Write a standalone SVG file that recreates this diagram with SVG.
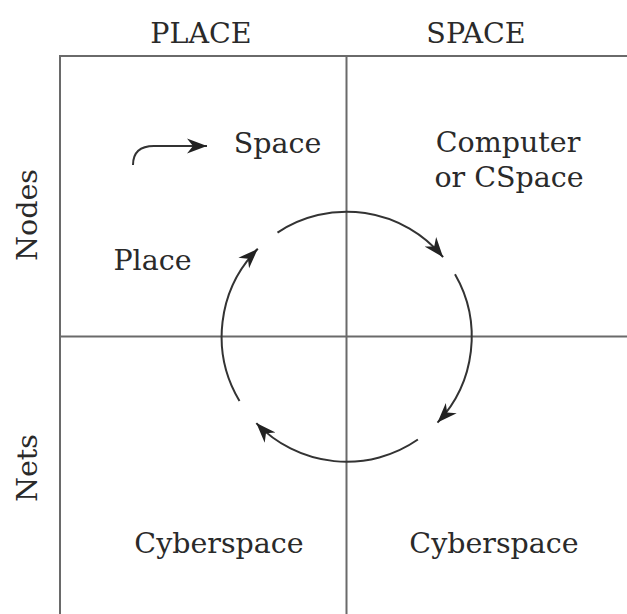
<svg xmlns="http://www.w3.org/2000/svg" width="627" height="614" viewBox="0 0 627 614">
<style>
  .grid { stroke: #6a6a6a; stroke-width: 2; fill: none; }
  .arc { stroke: #333; stroke-width: 2; fill: none; stroke-linecap: butt; }
  text { font-family: "DejaVu Serif", "Liberation Serif", serif; font-size: 28.5px; fill: #2a2a2a; }
  .c { text-anchor: middle; }
</style>
<defs>
  <marker id="ah" viewBox="-20 -9 21 18" refX="0" refY="0" markerWidth="21" markerHeight="18" markerUnits="userSpaceOnUse" orient="auto">
    <path d="M0,0 L-20,-7.5 L-14,0 L-20,7.5 Z" fill="#222"/>
  </marker>
</defs>
<g id="grid">
  <line class="grid" x1="60" y1="56" x2="627" y2="56"/>
  <line class="grid" x1="60" y1="55" x2="60" y2="614"/>
  <line class="grid" x1="346.5" y1="56" x2="346.5" y2="614"/>
  <line class="grid" x1="60" y1="336.5" x2="627" y2="336.5"/>
</g>
<g id="headers">
  <text id="h-place" class="c" x="201" y="43">PLACE</text>
  <text id="h-space" class="c" x="476" y="43">SPACE</text>
  <text id="h-nodes" class="c" transform="translate(37,215) rotate(-90)">Nodes</text>
  <text id="h-nets" class="c" transform="translate(37,468) rotate(-90)">Nets</text>
</g>
<g id="node-space"><text class="c" x="277.5" y="153">Space</text></g>
<g id="node-computer"><text class="c" x="508" y="152">Computer</text><text class="c" x="509" y="187">or CSpace</text></g>
<g id="node-place"><text class="c" x="152.5" y="270">Place</text></g>
<g id="node-cyber-left"><text class="c" x="219" y="553">Cyberspace</text></g>
<g id="node-cyber-right"><text class="c" x="494" y="553">Cyberspace</text></g>
<g id="connectors">
  <path class="arc" d="M133,165 C133,153 140,146 154,146 L207,146" marker-end="url(#ah)"/>
  <path class="arc" d="M277.5,232.6 A125,125 0 0 1 443.1,257.2" marker-end="url(#ah)"/>
  <path class="arc" d="M455,274.2 A125,125 0 0 1 437.5,422.6" marker-end="url(#ah)"/>
  <path class="arc" d="M417.9,439.5 A125,125 0 0 1 256.3,423.1" marker-end="url(#ah)"/>
  <path class="arc" d="M239.5,401.1 A125,125 0 0 1 257.8,248.8" marker-end="url(#ah)"/>
</g>
</svg>
